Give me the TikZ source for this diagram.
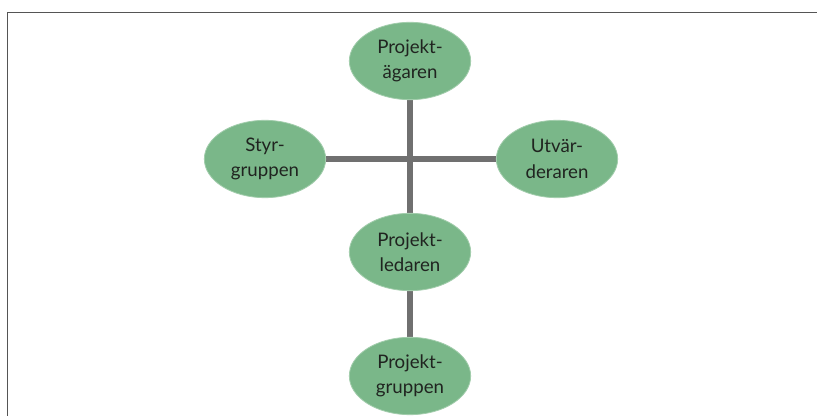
\documentclass[tikz,border=0pt]{standalone}
\usepackage{fontspec}
\setmainfont{Lato}
\usetikzlibrary{shapes.geometric,backgrounds}
\definecolor{nodegreen}{RGB}{122,183,137}
\definecolor{linegray}{RGB}{112,112,112}
\definecolor{framegray}{RGB}{85,85,85}
\definecolor{textdark}{RGB}{32,36,32}
\begin{document}
\begin{tikzpicture}[x=0.75pt,y=-0.75pt,
  role/.style={ellipse,fill=nodegreen,draw=nodegreen!70!white,line width=0.6pt,
    minimum width=91pt,minimum height=58pt,inner sep=0pt,align=center,
    text=textdark,font=\fontsize{14}{19}\selectfont},
  link/.style={draw=linegray,line width=3.8pt}]
\useasboundingbox (0,0) rectangle (817,416);
\coordinate (fa) at (7.5,416);
\coordinate (fb) at (7.5,12.5);
\coordinate (fc) at (817,12.5);
\node[role] (agare) at (410,61) {Projekt-\\ägaren};
\node[role] (styr) at (265,159) {Styr-\\gruppen};
\node[role] (utv) at (557,159) {Utvär-\\deraren};
\node[role] (ledare) at (410,252) {Projekt-\\ledaren};
\node[role] (grupp) at (410,376) {Projekt-\\gruppen};
\begin{scope}[on background layer]
\fill[white] (0,0) rectangle (817,416);
\draw[framegray,line width=1.3pt] (fa) -- (fb) -- (fc);
\path[link] (agare) -- (ledare);
\path[link] (ledare) -- (grupp);
\path[link] (styr) -- (utv);
\end{scope}
\end{tikzpicture}
\end{document}
